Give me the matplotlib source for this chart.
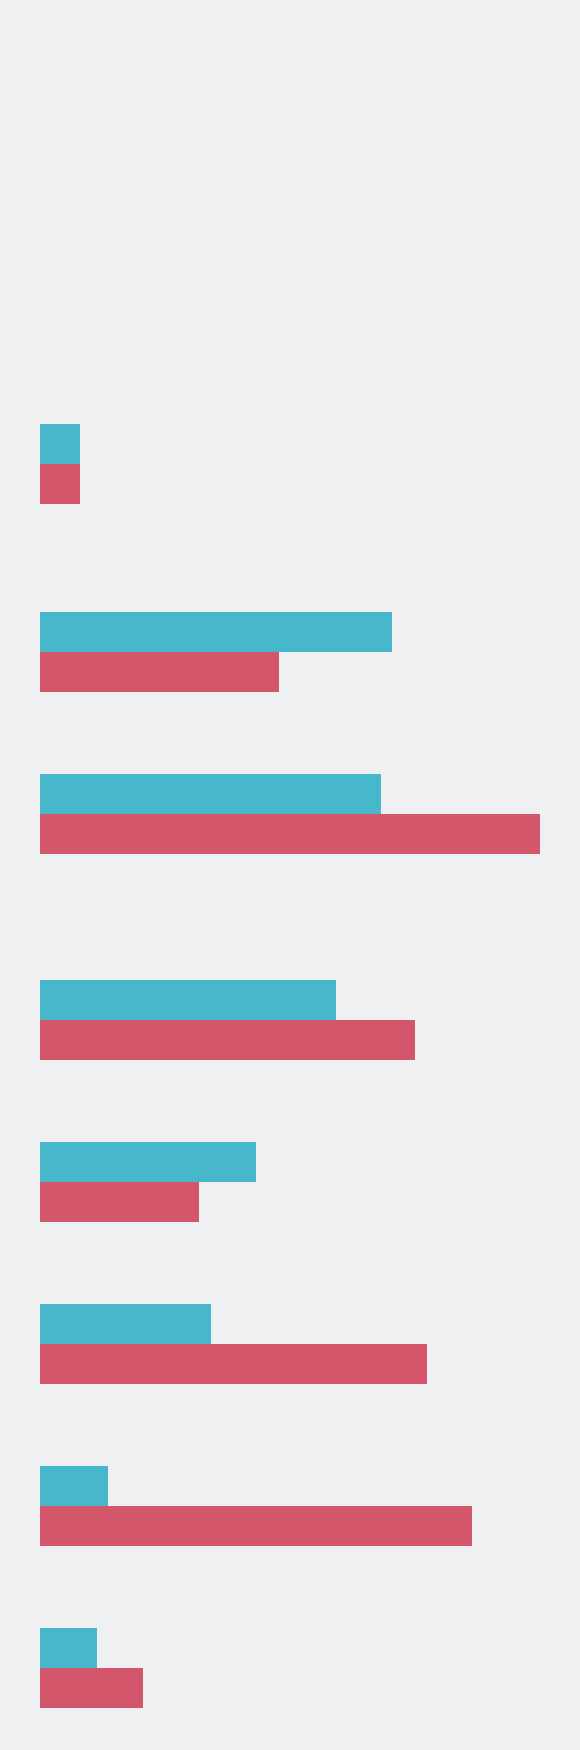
import matplotlib
matplotlib.use("Agg")
import matplotlib.pyplot as plt
import numpy as np

# Category positions (in row units) and values
positions = [0.0, 1.16, 2.16, 3.43, 4.43, 5.43, 6.43, 7.43]
series_a = [8.0, 70.4, 68.2, 59.1, 43.2, 34.1, 13.6, 11.3]   # teal
series_b = [8.0, 47.7, 100.0, 75.0, 31.8, 77.3, 86.4, 20.5]  # red

bg = "#EFF0F2"
teal = "#47B7CB"
red = "#D3566B"

fig = plt.figure(figsize=(5.8, 17.5), dpi=100, facecolor=bg)
ax = fig.add_axes([0, 0, 1, 1])
ax.set_facecolor(bg)

bar_h = 0.247
pos = np.array(positions)
ax.barh(pos - bar_h / 2, series_a, height=bar_h, color=teal, linewidth=0)
ax.barh(pos + bar_h / 2, series_b, height=bar_h, color=red, linewidth=0)

ax.set_xlim(-8, 108)
ax.set_ylim(7.938, -2.864)
ax.axis("off")

fig.savefig("out.png", dpi=100, facecolor=bg)
